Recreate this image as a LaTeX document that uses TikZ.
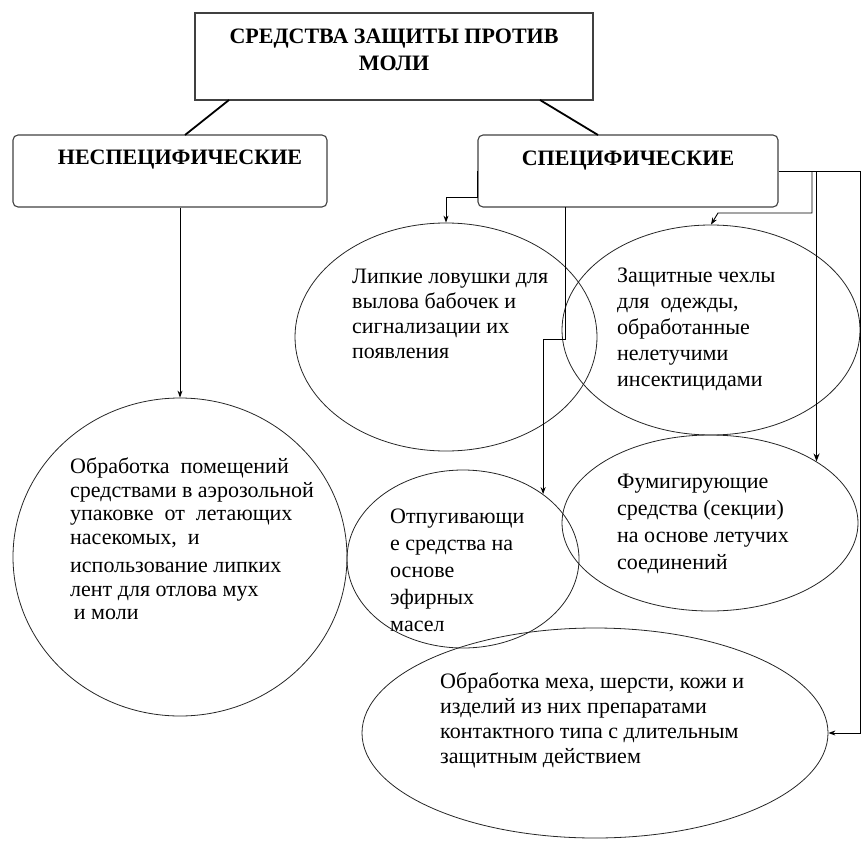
\documentclass[tikz,border=0pt]{standalone}
\usepackage{fontspec}
\setmainfont{Liberation Serif}
\usetikzlibrary{shapes.geometric, arrows.meta}

\begin{document}
\begin{tikzpicture}[x=1pt, y=-1pt,
    head/.style={draw=black!75, line width=1.1pt, minimum width=398pt, minimum height=87pt, inner sep=0pt},
    kind/.style={draw=black!75, line width=1.1pt, rounded corners=5pt, minimum height=72pt, inner sep=0pt},
    oval/.style={ellipse, draw=black!85, line width=0.8pt, inner sep=0pt},
    title/.style={font=\fontsize{22}{27}\selectfont\bfseries, align=center, inner sep=0pt},
    body/.style={font=\fontsize{22}{25}\selectfont, align=left, anchor=north west, inner sep=0pt},
    link/.style={line width=0.9pt},
    arr/.style={link, -{Stealth[length=7pt, width=5pt]}},
    boldlink/.style={line width=1.8pt}]
    \useasboundingbox (0,0) rectangle (861,840);

    % Boxes
    \node[head] (top) at (394,56.5) {};
    \node[kind, minimum width=314pt] (nespec) at (170,171) {};
    \node[kind, minimum width=300pt] (spec) at (628,171) {};

    \node[title] (toptext) at (394,50) {СРЕДСТВА ЗАЩИТЫ ПРОТИВ\\МОЛИ};
    \node[title] (nespectext) at (180,160) {НЕСПЕЦИФИЧЕСКИЕ};
    \node[title] (spectext) at (628,161) {СПЕЦИФИЧЕСКИЕ};

    % Ovals
    \node[oval, minimum width=334pt, minimum height=318pt] (circ) at (180,557) {};
    \node[oval, minimum width=302pt, minimum height=228pt] (lip) at (446,337) {};
    \node[oval, minimum width=298pt, minimum height=210pt] (zash) at (711,330) {};
    \node[oval, minimum width=232pt, minimum height=178pt] (otp) at (463,559) {};
    \node[oval, minimum width=296pt, minimum height=176pt] (fum) at (710,523) {};
    \node[oval, minimum width=466pt, minimum height=210pt] (mex) at (595,733) {};

    % Texts of the ovals
    \node[body, font=\fontsize{22}{23.5}\selectfont] (circtext) at (70,458) {Обработка\ \ помещений\\
        средствами в аэрозольной\\упаковке\ \ от\ \ летающих\\насекомых,\ \ и\\[5pt]
        использование липких\\лент для отлова мух\\\,и моли};
    \node[body] (liptext) at (352,269) {Липкие ловушки для\\вылова бабочек и\\
        сигнализации их\\появления};
    \node[body, font=\fontsize{22}{26}\selectfont] (zashtext) at (617,268) {Защитные чехлы\\для\ \ одежды,\\
        обработанные\\нелетучими\\инсектицидами};
    \node[body, font=\fontsize{22}{27}\selectfont] (otptext) at (390,509) {Отпугивающи\\е средства на\\
        основе\\эфирных\\масел};
    \node[body, font=\fontsize{22}{27}\selectfont] (fumtext) at (617,474) {Фумигирующие\\средства (секции)\\
        на основе летучих\\соединений};
    \node[body] (mextext) at (440,673) {Обработка меха, шерсти, кожи и\\изделий из них препаратами\\
        контактного типа с длительным\\защитным действием};

    % Coordinates for the links
    \coordinate (tl) at (229,100);
    \coordinate (tr) at (540,100);
    \coordinate (nl) at (185,135);
    \coordinate (nr) at (598,135);
    \coordinate (sb) at (565,207);
    \coordinate (r1) at (812,171);
    \coordinate (r3) at (860,171);

    % Draw the links
    \draw[boldlink] (tl) -- (nl);
    \draw[boldlink] (tr) -- (nr);
    \draw[arr] (circ.north |- nespec.south) -- (circ.north);
    \draw[arr] (spec.west) -- ++(0,26) -| (lip.north);
    \draw[arr] (sb) -- ++(0,132) -| (otp.39);
    \draw[link] (spec.east) -- (r3);
    \draw[arr] (r3) |- (mex.east);
    \draw[arr] (r1) -- ++(0,42) -- ++(-94,0) -- (zash.north);
    \draw[boldlink, -{Stealth[length=8pt, width=6pt]}] (fum.30 |- spec.east) -- (fum.30);
\end{tikzpicture}
\end{document}
